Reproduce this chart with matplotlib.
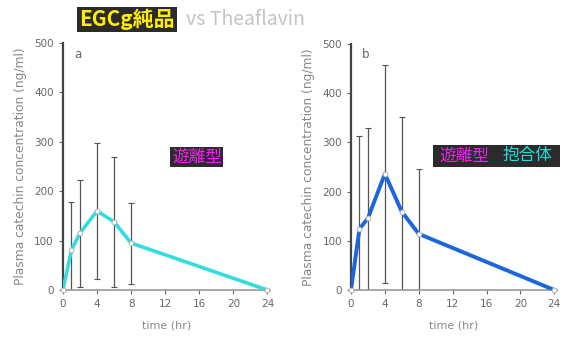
import matplotlib
matplotlib.use("Agg")
import matplotlib.pyplot as plt
from matplotlib.patches import Rectangle

plt.rcParams['font.family'] = ['DejaVu Sans', 'Noto Sans CJK JP']

# Sampling times (hr)
time_free = [0, 1, 2, 4, 6, 8, 24]
time_total = [0, 1, 2, 4, 6, 8, 24]

# Mean plasma catechin concentration (ng/ml) and SD
free_mean = [0, 81, 115, 160, 138, 95, 0]
free_sd = [0, 98, 108, 138, 132, 82, 0]
total_mean = [0, 124, 146, 236, 159, 114, 0]
total_sd = [0, 189, 183, 221, 193, 132, 0]

y_ticks = [0, 100, 200, 300, 400, 500]
x_ticks = [0, 4, 8, 12, 16, 20, 24]
x_ticklabels = ['0', '4', '8', '12', '16', '20', '24']

ylabel = 'Plasma catechin concentration (ng/ml)'
xlabel = 'time (hr)'

fig = plt.figure(figsize=(5.72, 3.39), dpi=100)
ax1 = fig.add_axes([0.110, 0.1445, 0.362, 0.729])
ax2 = fig.add_axes([0.6136, 0.1445, 0.360, 0.726])

tick_col = '#666666'


def style(ax, letter):
    ax.set_xlim(0, 24.3)
    ax.set_ylim(0, 500)
    ax.set_yticks(y_ticks)
    ax.set_xticks(x_ticks)
    ax.set_xticklabels(x_ticklabels)
    for s in ['top', 'right']:
        ax.spines[s].set_visible(False)
    ax.spines['left'].set_color('#444444')
    ax.spines['left'].set_linewidth(1.6)
    ax.spines['bottom'].set_color('#999999')
    ax.spines['bottom'].set_linewidth(1.2)
    ax.tick_params(axis='both', labelsize=7.5, colors=tick_col, length=3, width=0.8)
    ax.set_ylabel(ylabel, fontsize=8.8, color='#888888', labelpad=5)
    ax.set_xlabel(xlabel, fontsize=8, color='#888888', labelpad=8)
    ax.text(0.07, 0.955, letter, transform=ax.transAxes, fontsize=8.5,
            color='#666666', ha='center', va='center')


style(ax1, 'a')
style(ax2, 'b')

# Free form (panel a)
ax1.errorbar(time_free, free_mean, yerr=free_sd, fmt='none', ecolor='#555555',
             elinewidth=0.9, capsize=2, capthick=0.8, zorder=2, clip_on=True)
ax1.plot(time_free, free_mean, color='#33dddd', lw=2.6, zorder=3,
         solid_joinstyle='round')
ax1.plot(time_free, free_mean, 'o', ms=3.5, mfc='white', mec='#aaaaaa',
         mew=0.6, zorder=4, clip_on=False)

# Free + conjugated (panel b)
ax2.errorbar(time_total, total_mean, yerr=total_sd, fmt='none', ecolor='#555555',
             elinewidth=0.9, capsize=2, capthick=0.8, zorder=2, clip_on=True)
ax2.plot(time_total, total_mean, color='#1a66dd', lw=2.8, zorder=3,
         solid_joinstyle='round')
ax2.plot(time_total, total_mean, 'o', ms=3.5, mfc='white', mec='#aaaaaa',
         mew=0.6, zorder=4, clip_on=False)

jp = ['Noto Sans CJK JP', 'DejaVu Sans']
box_fc = '#2b2b2b'

ax1.text(0.647, 0.538, '遊離型', transform=ax1.transAxes, fontsize=12,
         color='#ee22ee', family=jp, ha='center', va='center',
         bbox=dict(boxstyle='square,pad=0.1', fc=box_fc, ec='none'))

ax2.add_patch(Rectangle((0.398, 0.50), 0.617, 0.09, transform=ax2.transAxes,
                        fc=box_fc, ec='none', zorder=5, clip_on=False))
ax2.text(0.553, 0.545, '遊離型', transform=ax2.transAxes, fontsize=12,
         color='#ee22ee', family=jp, ha='center', va='center', zorder=6)
ax2.text(0.857, 0.545, '抱合体', transform=ax2.transAxes, fontsize=12,
         color='#22dddd', family=jp, ha='center', va='center', zorder=6)

# Title
fig.text(0.222, 0.942, 'EGCg純品', fontsize=15, color='#ffee00', style='italic',
         weight='bold', family=jp, ha='center', va='center',
         bbox=dict(boxstyle='square,pad=0.1', fc=box_fc, ec='none'))
fig.text(0.325, 0.942, 'vs Theaflavin', fontsize=14, color='#c4c4c4',
         family=jp, ha='left', va='center')

fig.savefig('out.png', dpi=100, facecolor='white')
